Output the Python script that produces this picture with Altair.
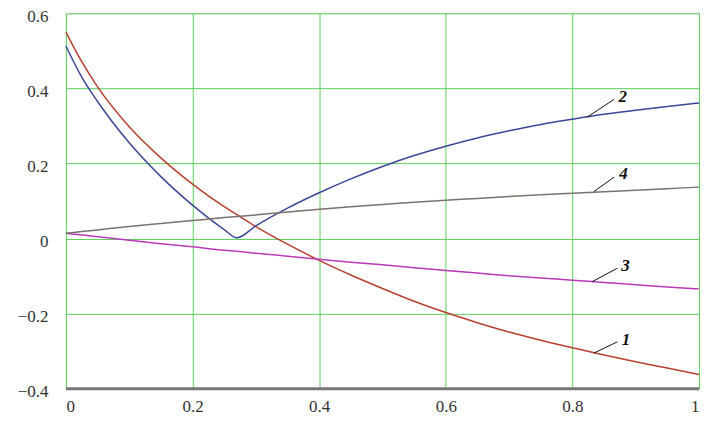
import altair as alt
import pandas as pd

xs = [0.0, 0.025, 0.05, 0.1, 0.15, 0.2, 0.25, 0.27, 0.3, 0.35, 0.4, 0.45, 0.5, 0.55, 0.6,
      0.65, 0.7, 0.75, 0.8, 0.85, 0.9, 0.95, 1.0]

curve1 = [0.55, 0.471, 0.404, 0.298, 0.215, 0.145, 0.085, 0.064, 0.032, -0.015, -0.058, -0.097,
          -0.133, -0.167, -0.197, -0.224, -0.249, -0.271, -0.291, -0.31, -0.328, -0.345, -0.362]
curve2 = [0.513, 0.43, 0.365, 0.255, 0.165, 0.089, 0.024, 0.002, 0.034, 0.081, 0.122, 0.159,
          0.192, 0.221, 0.246, 0.268, 0.287, 0.304, 0.318, 0.331, 0.342, 0.352, 0.361]
curve3 = [0.014, 0.0095, 0.005, -0.0045, -0.0135, -0.022, -0.031, -0.034, -0.039, -0.047, -0.055,
          -0.063, -0.07, -0.078, -0.085, -0.092, -0.099, -0.105, -0.111, -0.117, -0.123, -0.129, -0.134]
curve4 = [0.014, 0.0185, 0.023, 0.032, 0.04, 0.048, 0.056, 0.059, 0.063, 0.071, 0.078, 0.085,
          0.091, 0.097, 0.102, 0.107, 0.112, 0.117, 0.121, 0.125, 0.129, 0.133, 0.137]

series_names = ["1", "2", "3", "4"]
series_colors = ["#b8402e", "#3b4898", "#b83ab8", "#7d716a"]

# annotation labels: leader start (on curve), leader end, text position
lab_names = ["1", "2", "3", "4"]
lead_x0 = [0.834, 0.823, 0.831, 0.834]
lead_y0 = [-0.305, 0.323, -0.115, 0.125]
lead_x1 = [0.871, 0.866, 0.871, 0.866]
lead_y1 = [-0.275, 0.371, -0.079, 0.164]
text_x = [0.878, 0.873, 0.877, 0.874]
text_y = [-0.270, 0.378, -0.072, 0.172]

rows = []
for name, ys in zip(series_names, [curve1, curve2, curve3, curve4]):
    for x, y in zip(xs, ys):
        rows.append({"x": x, "y": y, "s": name})
df = pd.DataFrame(rows)

ann = pd.DataFrame({"name": lab_names, "x0": lead_x0, "y0": lead_y0,
                    "x1": lead_x1, "y1": lead_y1, "tx": text_x, "ty": text_y})

xscale = alt.Scale(domain=[0, 1], nice=False, zero=False)
yscale = alt.Scale(domain=[-0.4, 0.6], nice=False, zero=False)

font = "Times New Roman, Liberation Serif, serif"

xaxis = alt.Axis(values=[0, 0.2, 0.4, 0.6, 0.8, 1.0], title=None, ticks=False,
                 domain=False, grid=True, gridColor="#5ccf5c", gridWidth=1,
                 labelFont=font, labelFontSize=17, labelColor="#333333", labelPadding=10,
                 labelExpr="datum.value == 0 ? '0' : (datum.value == 1 ? '1' : format(datum.value, '.1f'))")
yaxis = alt.Axis(values=[-0.4, -0.2, 0, 0.2, 0.4, 0.6], title=None, ticks=False,
                 domain=False, grid=True, gridColor="#5ccf5c", gridWidth=1,
                 labelFont=font, labelFontSize=17, labelColor="#333333", labelPadding=18,
                 labelOffset=3,
                 labelExpr="datum.value == 0 ? '0' : replace(format(datum.value, '.1f'), '-', '\u2212')")

lines = alt.Chart(df).mark_line(strokeWidth=1.5, interpolate="monotone").encode(
    x=alt.X("x:Q", scale=xscale, axis=xaxis),
    y=alt.Y("y:Q", scale=yscale, axis=yaxis),
    color=alt.Color("s:N", scale=alt.Scale(domain=series_names, range=series_colors), legend=None),
    detail="s:N",
)

leaders = alt.Chart(ann).mark_rule(color="#111111", strokeWidth=1).encode(
    x=alt.X("x0:Q", scale=xscale), y=alt.Y("y0:Q", scale=yscale),
    x2="x1:Q", y2="y1:Q",
)

texts = alt.Chart(ann).mark_text(font=font, fontSize=17, fontStyle="italic", fontWeight="bold",
                                 align="left", baseline="middle", color="#111111").encode(
    x=alt.X("tx:Q", scale=xscale), y=alt.Y("ty:Q", scale=yscale), text="name:N",
)

bottom = alt.Chart(pd.DataFrame({"y": [-0.4]})).mark_rule(color="#777777", strokeWidth=3).encode(
    y=alt.Y("y:Q", scale=yscale), x=alt.value(0), x2=alt.value(634),
)

chart = alt.layer(lines, leaders, texts, bottom).properties(
    width=634, height=376,
    autosize=alt.AutoSizeParams(type="none"),
    padding={"left": 58, "top": 5, "right": 10, "bottom": 30},
).configure_view(stroke="#000000", strokeWidth=2).configure_axis(
    labelFont=font
).configure(background="white", font=font)

chart.save("out.html", embed_options={"renderer": "svg", "actions": False})
